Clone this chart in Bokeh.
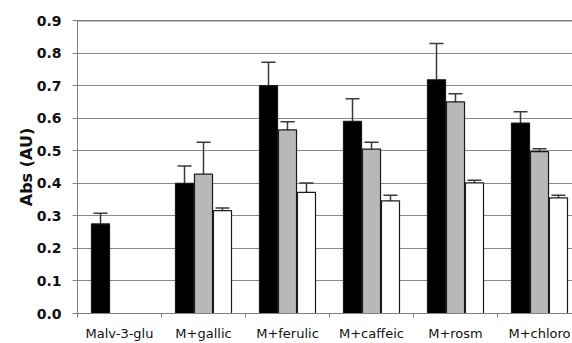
import numpy as np
from bokeh.plotting import figure
from bokeh.models import (ColumnDataSource, Range1d, FixedTicker, Whisker, TeeHead,
                          Span, NumeralTickFormatter)
from bokeh.transform import dodge
from bokeh.embed import file_html
from bokeh.resources import INLINE

# ---- data ----
categories = ["Malv-3-glu", "M+gallic", "M+ferulic", "M+caffeic", "M+rosm", "M+chloro"]
black_vals = [0.275, 0.400, 0.700, 0.590, 0.718, 0.585]
black_errs = [0.033, 0.053, 0.072, 0.070, 0.111, 0.035]
gray_vals = [np.nan, 0.428, 0.564, 0.505, 0.650, 0.497]
gray_errs = [np.nan, 0.098, 0.025, 0.021, 0.025, 0.009]
white_vals = [np.nan, 0.316, 0.372, 0.346, 0.401, 0.355]
white_errs = [np.nan, 0.008, 0.029, 0.017, 0.008, 0.008]
yticks = [0.0, 0.1, 0.2, 0.3, 0.4, 0.5, 0.6, 0.7, 0.8, 0.9]
y_label = "Abs (AU)"

centers = [i + 0.5 for i in range(len(categories))]
bounds = [float(i) for i in range(len(categories) + 1)]

p = figure(width=572, height=343, output_backend="svg", toolbar_location=None,
           x_range=Range1d(0, 5.893), y_range=Range1d(0, 0.9),
           min_border_left=77, min_border_right=0, min_border_top=20, min_border_bottom=30)
p.outline_line_color = None
p.background_fill_color = "white"
p.border_fill_color = "white"

series = [
    (black_vals, black_errs, "#000000", -0.226),
    (gray_vals, gray_errs, "#b8b8b8", 0.0),
    (white_vals, white_errs, "#ffffff", 0.226),
]

for vals, errs, color, off in series:
    xs, tops, ups, lows = [], [], [], []
    for c, v, e in zip(centers, vals, errs):
        if v is None or np.isnan(v):
            continue
        xs.append(c)
        tops.append(v)
        ups.append(v + e)
        lows.append(v - e)
    src = ColumnDataSource(dict(x=xs, top=tops, upper=ups, lower=lows))
    p.vbar(x=dodge("x", off, range=p.x_range), top="top", bottom=0, width=0.215,
           source=src, fill_color=color, line_color="#1a1a1a", line_width=1.2)
    w = Whisker(base=dodge("x", off, range=p.x_range), upper="upper", lower="lower",
                source=src, dimension="height", line_color="#3a3a3a", line_width=1.5,
                upper_head=TeeHead(size=14, line_color="#3a3a3a", line_width=1.5),
                lower_head=TeeHead(size=14, line_color="#3a3a3a", line_width=1.5))
    p.add_layout(w)

# top border line
p.add_layout(Span(location=yticks[-1], dimension="width", line_color="#000000", line_width=1.5))

# grid
p.xgrid.visible = False
p.ygrid.ticker = FixedTicker(ticks=yticks[1:-1])
p.ygrid.grid_line_color = "#8a8a8a"
p.ygrid.grid_line_width = 1

# y axis
p.yaxis.ticker = FixedTicker(ticks=yticks)
p.yaxis.formatter = NumeralTickFormatter(format="0.0")
p.yaxis.axis_label = y_label
p.yaxis.axis_label_text_font = "DejaVu Sans"
p.yaxis.axis_label_text_font_style = "bold"
p.yaxis.axis_label_text_font_size = "16px"
p.yaxis.axis_label_text_color = "#111111"
p.yaxis.axis_label_standoff = -2
p.yaxis.major_label_text_font = "DejaVu Sans"
p.yaxis.major_label_text_font_style = "bold"
p.yaxis.major_label_text_font_size = "14px"
p.yaxis.major_label_text_color = "#111111"
p.yaxis.major_label_standoff = 11
p.yaxis.major_tick_out = 5
p.yaxis.major_tick_in = 0
p.yaxis.minor_tick_line_color = None
p.yaxis.axis_line_color = "#808080"
p.yaxis.major_tick_line_color = "#808080"

# x axis
p.xaxis.ticker = FixedTicker(ticks=centers, minor_ticks=bounds)
p.xaxis.major_label_overrides = {c: name for c, name in zip(centers, categories)}
p.xaxis.major_label_text_font = "DejaVu Sans"
p.xaxis.major_label_text_font_size = "13px"
p.xaxis.major_label_text_color = "#111111"
p.xaxis.major_label_standoff = 8
p.xaxis.major_tick_line_color = None
p.xaxis.major_tick_out = 0
p.xaxis.major_tick_in = 0
p.xaxis.minor_tick_out = 4
p.xaxis.minor_tick_in = 0
p.xaxis.minor_tick_line_color = "#808080"
p.xaxis.axis_line_color = "#808080"

open("out.html", "w").write(file_html(p, INLINE))
